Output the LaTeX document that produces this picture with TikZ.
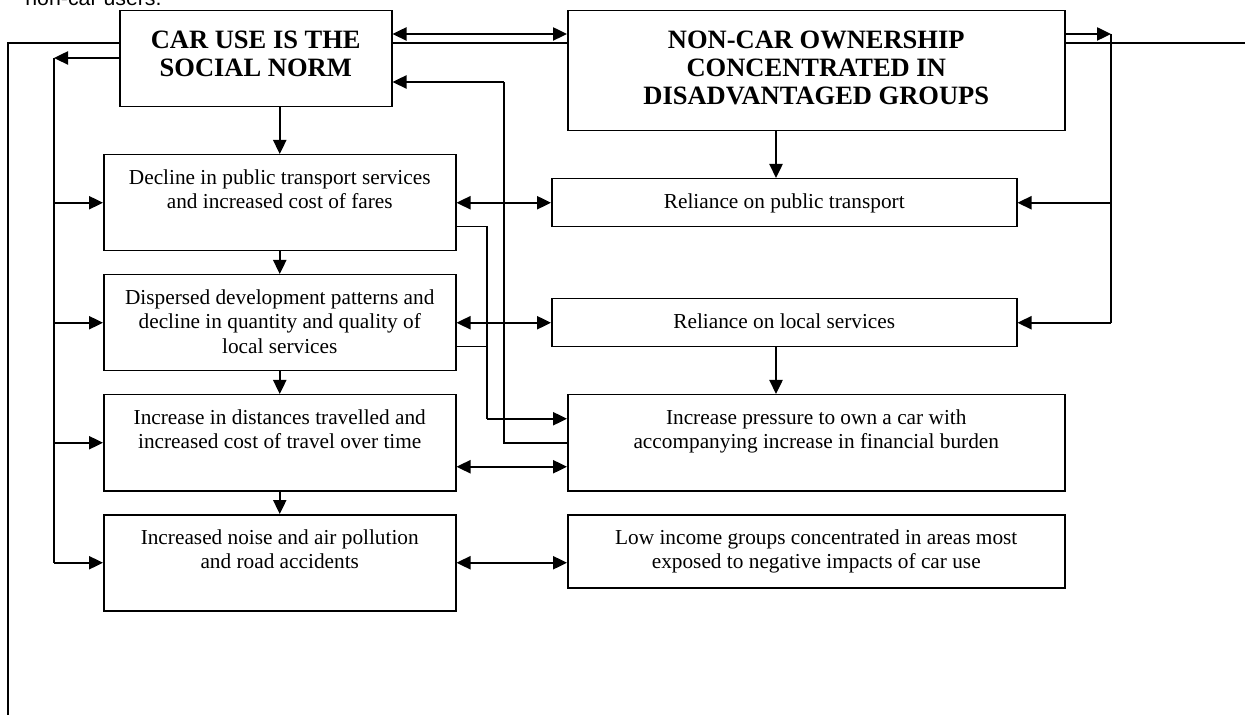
\documentclass[tikz,border=0pt]{standalone}
\usepackage{fontspec}
\setmainfont{Liberation Serif}
\newfontfamily\arialf{Liberation Sans}
\usetikzlibrary{arrows.meta,calc}
\begin{document}
\begin{tikzpicture}[x=0.5pt,y=-0.5pt,
  box/.style={draw, line width=0.75pt, fill=white, inner sep=0pt, anchor=north west},
  txt/.style={anchor=north, align=center, inner sep=0pt, font=\fontsize{10.65}{12.25}\selectfont},
  hdr/.style={anchor=north, align=center, inner sep=0pt, font=\fontsize{13.25}{14}\selectfont\bfseries},
  tip/.style={-{Triangle[length=7pt,width=6.5pt]}},
  arr/.style={line width=1.2pt, -{Triangle[length=7pt,width=6.5pt]}},
  darr/.style={line width=1.2pt, {Triangle[length=7pt,width=6.5pt]}-{Triangle[length=7pt,width=6.5pt]}},
  conn/.style={line width=0.75pt},
  frame/.style={line width=1pt},
]
\useasboundingbox (0,0) rectangle (1245,715);

% cut-off text above the figure
\node[anchor=base west, inner sep=0pt, font=\arialf\fontsize{10.65}{12}\selectfont] (cap) at (25,6) {non-car users.};

% page frame line behind the boxes
\coordinate (fb) at (8,715);
\coordinate (fc) at (8,43);
\coordinate (fr) at (1245,43);
\draw[frame] (fb) -- (fc) -- (fr);

% boxes
\node[box, minimum width=136pt, minimum height=48pt] (car) at (119,10) {};
\node[box, minimum width=248.5pt, minimum height=60pt] (noncar) at (567,10) {};
\node[box, minimum width=176pt, minimum height=48pt] (b1) at (103,154) {};
\node[box, minimum width=176pt, minimum height=48pt] (b2) at (103,274) {};
\node[box, minimum width=176pt, minimum height=48pt] (b3) at (103,394) {};
\node[box, minimum width=176pt, minimum height=48pt] (b4) at (103,514) {};
\node[box, minimum width=232.5pt, minimum height=24pt] (relpt) at (551,178) {};
\node[box, minimum width=232.5pt, minimum height=24pt] (rells) at (551,298) {};
\node[box, minimum width=248.5pt, minimum height=48pt] (incp) at (567,394) {};
\node[box, minimum width=248.5pt, minimum height=36.5pt] (lowinc) at (567,514) {};

% texts
\node[hdr] (tcar) at ([yshift=-10.5pt]car.north) {CAR USE IS THE\\SOCIAL NORM};
\node[hdr] (tnoncar) at ([yshift=-10.5pt]noncar.north) {NON-CAR OWNERSHIP\\CONCENTRATED IN\\DISADVANTAGED GROUPS};
\node[txt] (tb1) at ([yshift=-7.5pt]b1.north) {Decline in public transport services\\and increased cost of fares};
\node[txt] (tb2) at ([yshift=-7.5pt]b2.north) {Dispersed development patterns and\\decline in quantity and quality of\\local services};
\node[txt] (tb3) at ([yshift=-7.5pt]b3.north) {Increase in distances travelled and\\increased cost of travel over time};
\node[txt] (tb4) at ([yshift=-7.5pt]b4.north) {Increased noise and air pollution\\and road accidents};
\node[txt] (trelpt) at ([yshift=-7.5pt]relpt.north) {Reliance on public transport};
\node[txt] (trells) at ([yshift=-7.5pt]rells.north) {Reliance on local services};
\node[txt] (tincp) at ([yshift=-7.5pt]incp.north) {Increase pressure to own a car with\\accompanying increase in financial burden};
\node[txt] (tlowinc) at ([yshift=-7.5pt]lowinc.north) {Low income groups concentrated in areas most\\exposed to negative impacts of car use};

% routing points
\coordinate (cl) at (54,58);
\coordinate (nr) at (1111,34);
\coordinate (ax) at (776,0);
\coordinate (m1) at (487,0);
\coordinate (m2) at (504,82);

% top connectors
\draw[darr] (car.east |- nr) -- (noncar.west |- nr);
\draw[arr] (car.west |- cl) -- (cl);
\draw[conn] (cl) -- (cl |- b4.west);
\foreach \b in {b1,b2,b3,b4} \draw[arr] (cl |- \b.west) -- (\b.west);

% down arrows, left column
\draw[arr] (car.south -| b1.north) -- (b1.north);
\draw[arr] (b1.south) -- (b2.north);
\draw[arr] (b2.south) -- (b3.north);
\draw[arr] (b3.south) -- (b4.north);

% down arrows, right column
\draw[arr] (noncar.south -| ax) -- (relpt.north -| ax);
\draw[arr] (rells.south -| ax) -- (incp.north -| ax);

% two-way links
\draw[darr] (b1.east) -- (relpt.west);
\draw[darr] (b2.east) -- (rells.west);
\draw[darr] ([yshift=-12pt]b3.east) -- ([yshift=-12pt]incp.west);
\draw[darr] (b4.east) -- (b4.east -| lowinc.west);

% right feedback
\draw[arr] (noncar.east |- nr) -- (nr);
\draw[conn] (nr) -- (nr |- rells.east);
\draw[arr] (nr |- relpt.east) -- (relpt.east);
\draw[arr] (nr |- rells.east) -- (rells.east);

% middle links
\draw[conn] ([yshift=-12pt]b1.east) -- ([yshift=-12pt]b1.east -| m1) -- ([yshift=12pt]incp.west -| m1);
\draw[conn] ([yshift=-12pt]b2.east) -- ([yshift=-12pt]b2.east -| m1);
\draw[arr] ([yshift=12pt]incp.west -| m1) -- ([yshift=12pt]incp.west);
\draw[conn] (incp.west) -- (incp.west -| m2) -- (m2);
\draw[arr] (m2) -- (car.east |- m2);
\end{tikzpicture}
\end{document}
